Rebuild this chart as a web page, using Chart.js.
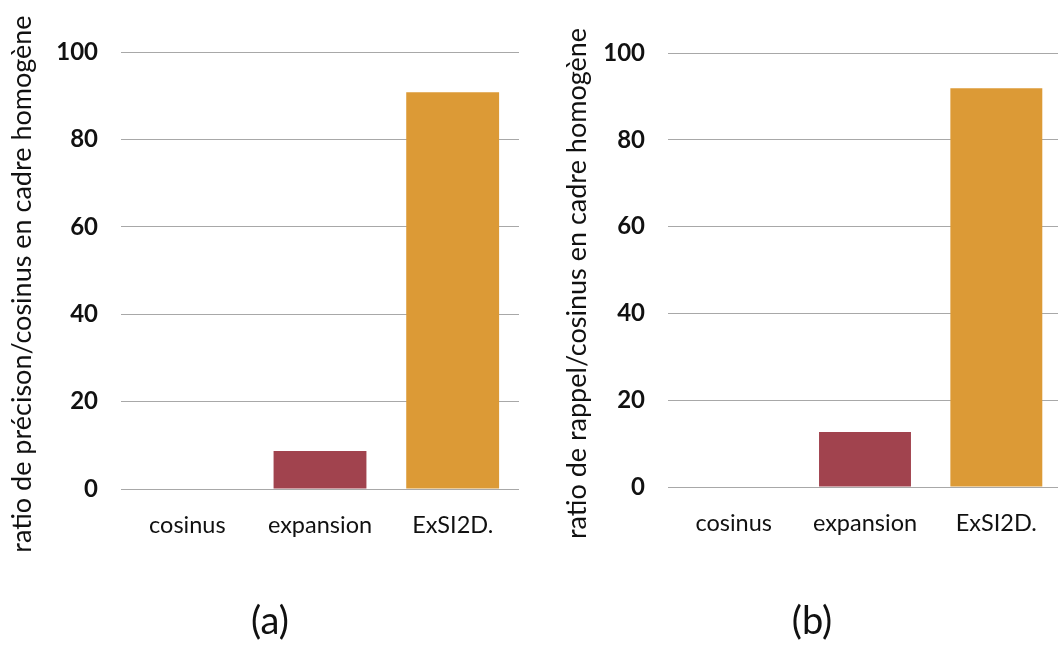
<!DOCTYPE html>
<html>
<head>
<meta charset="utf-8">
<script src="https://cdn.jsdelivr.net/npm/chart.js@4"></script>
<style>
  html, body { margin: 0; padding: 0; background: #fff; overflow: hidden; width: 1058px; height: 646px; }
  .box { position: absolute; top: 0; height: 646px; }
  .lbl { position: absolute; top: 596px; font-family: Lato, sans-serif; font-size: 38px; color: #111; transform: translateX(-50%); }
</style>
</head>
<body>
<div class="box" style="left:0;width:530px"><canvas id="grafA"></canvas></div>
<div class="box" style="left:530px;width:532px"><canvas id="grafB"></canvas></div>
<div class="lbl" style="left:270px">(a)</div>
<div class="lbl" style="left:812px">(b)</div>
<script>
document.addEventListener("DOMContentLoaded", () => {
    const methodes = ["cosinus", "expansion", "ExSI2D."];
    const precision = [0, 8.7, 90.8];   // ratio précision / cosinus
    const rappel = [0, 12.7, 91.9];     // ratio rappel / cosinus
    const couleurs = ["#a1434e", "#a1434e", "#dc9a36"];
    const yTicks = [0, 20, 40, 60, 80, 100];

    function maakGrafiek(id, waarden, titel, yBreedte, titelPad, top, bottom, rechts) {
        const ctx = document.getElementById(id).getContext('2d');
        return new Chart(ctx, {
            type: 'bar',
            data: {
                labels: methodes,
                datasets: [{
                    data: waarden,
                    backgroundColor: couleurs,
                    borderWidth: 0,
                    categoryPercentage: 1,
                    barPercentage: 0.7
                }]
            },
            options: {
                responsive: true,
                maintainAspectRatio: false,
                animation: false,
                layout: { padding: { top: top, bottom: bottom, left: 0, right: rechts } },
                scales: {
                    y: {
                        min: 0,
                        max: 100,
                        afterBuildTicks: s => { s.ticks = yTicks.map(v => ({ value: v })); },
                        afterFit: s => { s.width = yBreedte; },
                        grid: { color: '#a8a8a8', lineWidth: 1, drawTicks: false },
                        border: { display: false },
                        ticks: { padding: 23, color: '#111', font: { family: 'Lato', size: 24, weight: 'bold' } },
                        title: {
                            display: true,
                            text: titel + "\u2002\u2002",
                            color: '#111',
                            padding: { top: titelPad, bottom: 0 },
                            font: { family: 'Lato', size: 27 }
                        }
                    },
                    x: {
                        afterFit: s => { s.height = 60; },
                        grid: { display: false },
                        border: { display: false },
                        ticks: { padding: 14, color: '#111', font: { family: 'Lato', size: 23.5 } }
                    }
                },
                plugins: {
                    legend: { display: false },
                    tooltip: { enabled: false }
                }
            }
        });
    }

    maakGrafiek('grafA', precision, "ratio de précison/cosinus en cadre homogène", 121, 6, 52, 97, 11);
    maakGrafiek('grafB', rappel, "ratio de rappel/cosinus en cadre homogène", 138, 31, 53, 99, 0);
});
</script>
</body>
</html>
